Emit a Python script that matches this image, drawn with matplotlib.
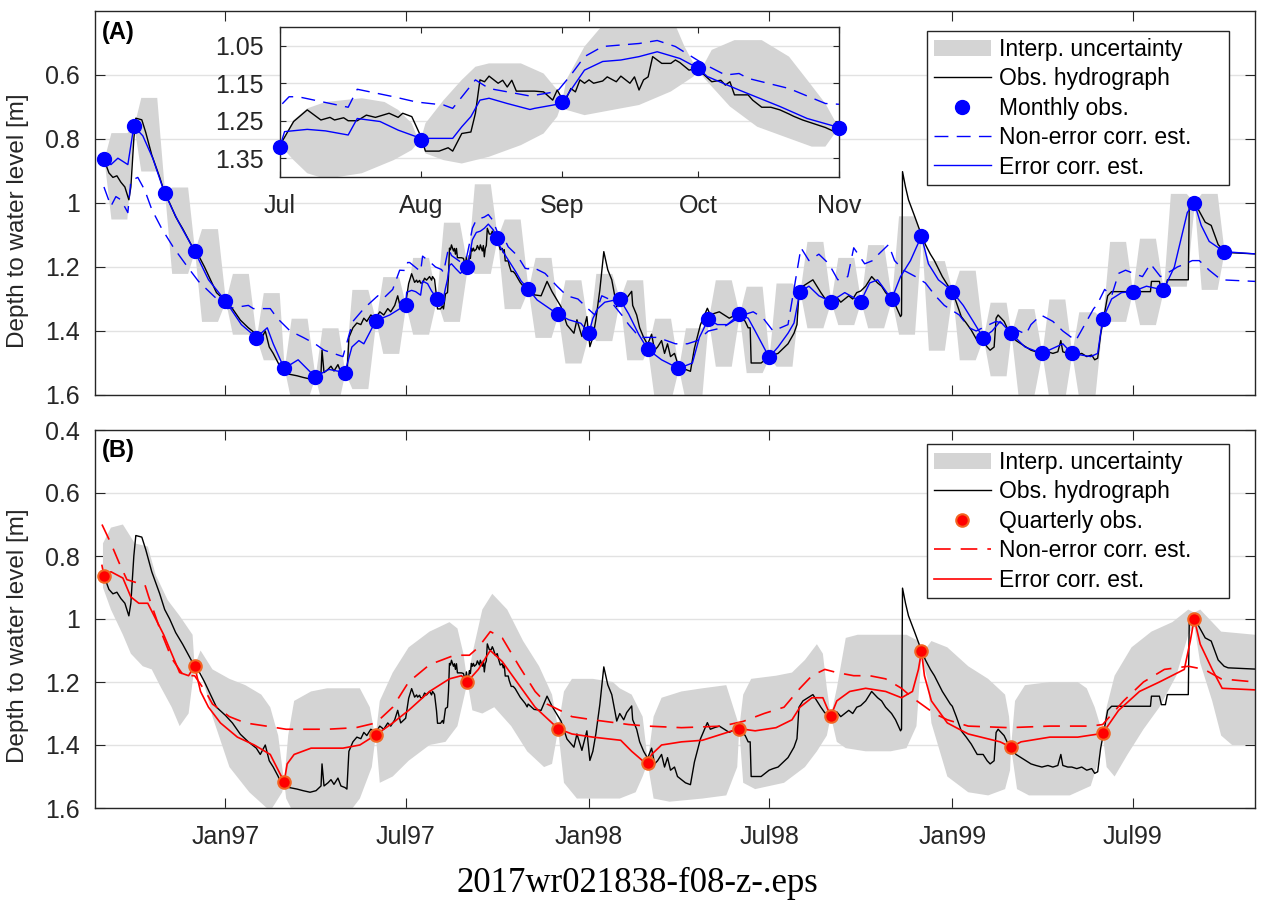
import numpy as np
import pandas as pd
import matplotlib
matplotlib.use("Agg")
import matplotlib.pyplot as plt
import matplotlib.dates as mdates
from matplotlib.patches import Patch
from matplotlib.lines import Line2D

# --- data (depth to water level, m) ---
monthly_dates = pd.date_range("1996-09-01", periods=38, freq="MS")
monthly_obs = [0.863, 0.759, 0.970, 1.149,
               1.306, 1.421, 1.517, 1.543, 1.530, 1.368, 1.319, 1.301, 1.199, 1.108, 1.270, 1.348,
               1.407, 1.301, 1.457, 1.517, 1.363, 1.348, 1.482, 1.277, 1.308, 1.308, 1.301, 1.103,
               1.277, 1.421, 1.407, 1.470, 1.470, 1.363, 1.277, 1.272, 0.999, 1.152]

quarterly_dates = ["1996-09-01", "1996-12-01", "1997-03-01", "1997-06-01", "1997-09-01",
                   "1997-12-01", "1998-03-01", "1998-06-01", "1998-09-01", "1998-12-01",
                   "1999-03-01", "1999-06-01", "1999-09-01"]
quarterly_obs = [0.863, 1.149, 1.517, 1.368, 1.199, 1.348, 1.457, 1.348, 1.308, 1.103,
                 1.407, 1.363, 0.999]

# uncertainty lobe extremes between monthly obs (panel A)
band_a_top = [0.78, 0.67, 0.95, 1.08, 1.22, 1.28, 1.36, 1.39, 1.27, 1.23, 1.17, 1.06, 0.94,
              1.05, 1.17, 1.24, 1.22, 1.24, 1.36, 1.39, 1.24, 1.26, 1.25, 1.12, 1.17, 1.13,
              1.04, 1.18, 1.21, 1.31, 1.33, 1.30, 1.34, 1.12, 1.11, 0.97, 0.97]
band_a_bot = [1.05, 0.90, 1.22, 1.37, 1.41, 1.49, 1.62, 1.63, 1.58, 1.47, 1.41, 1.37, 1.22,
              1.33, 1.42, 1.50, 1.43, 1.49, 1.62, 1.62, 1.51, 1.53, 1.51, 1.39, 1.38, 1.39,
              1.41, 1.46, 1.49, 1.54, 1.60, 1.61, 1.61, 1.37, 1.38, 1.26, 1.27]

obs_hydrograph = [
    ("1996-09-01", 0.863), ("1996-09-06", 0.906), ("1996-09-10", 0.92), ("1996-09-14", 0.915),
    ("1996-09-18", 0.935), ("1996-09-22", 0.95), ("1996-09-26", 0.99), ("1996-09-28", 0.95),
    ("1996-10-01", 0.80), ("1996-10-03", 0.735), ("1996-10-09", 0.74), ("1996-10-13", 0.78),
    ("1996-10-19", 0.85), ("1996-10-27", 0.92), ("1996-11-01", 0.97), ("1996-11-06", 1.00),
    ("1996-11-12", 1.043), ("1996-11-19", 1.08), ("1996-11-25", 1.115), ("1996-12-01", 1.15),
    ("1996-12-06", 1.17), ("1996-12-11", 1.20), ("1996-12-17", 1.24), ("1996-12-23", 1.28),
    ("1997-01-01", 1.306), ("1997-01-08", 1.33), ("1997-01-16", 1.366), ("1997-01-24", 1.39),
    ("1997-02-01", 1.41), ("1997-02-05", 1.43), ("1997-02-10", 1.40), ("1997-02-14", 1.45),
    ("1997-02-18", 1.47), ("1997-02-23", 1.50), ("1997-02-27", 1.53), ("1997-03-06", 1.535),
    ("1997-03-14", 1.54), ("1997-03-20", 1.545), ("1997-03-27", 1.55), ("1997-04-02", 1.545),
    ("1997-04-07", 1.53), ("1997-04-08", 1.46), ("1997-04-10", 1.53), ("1997-04-14", 1.52),
    ("1997-04-17", 1.51), ("1997-04-20", 1.525), ("1997-04-24", 1.505), ("1997-04-27", 1.53),
    ("1997-05-01", 1.535), ("1997-05-03", 1.54), ("1997-05-05", 1.42), ("1997-05-09", 1.39),
    ("1997-05-13", 1.375), ("1997-05-17", 1.38), ("1997-05-20", 1.36), ("1997-05-23", 1.37),
    ("1997-05-27", 1.35), ("1997-06-01", 1.36), ("1997-06-05", 1.34), ("1997-06-09", 1.35),
    ("1997-06-13", 1.33), ("1997-06-16", 1.34), ("1997-06-20", 1.32), ("1997-06-23", 1.29),
    ("1997-06-26", 1.33), ("1997-07-01", 1.315), ("1997-07-04", 1.252), ("1997-07-07", 1.221),
    ("1997-07-10", 1.248), ("1997-07-12", 1.241), ("1997-07-13", 1.248), ("1997-07-15", 1.242),
    ("1997-07-16", 1.25), ("1997-07-18", 1.25), ("1997-07-20", 1.235), ("1997-07-22", 1.241),
    ("1997-07-25", 1.23), ("1997-07-27", 1.241), ("1997-07-28", 1.23), ("1997-07-30", 1.239),
    ("1997-08-01", 1.292), ("1997-08-02", 1.331), ("1997-08-05", 1.331), ("1997-08-07", 1.322),
    ("1997-08-08", 1.331), ("1997-08-10", 1.284), ("1997-08-12", 1.28), ("1997-08-13", 1.23),
    ("1997-08-14", 1.141), ("1997-08-15", 1.146), ("1997-08-16", 1.131), ("1997-08-18", 1.15),
    ("1997-08-19", 1.142), ("1997-08-20", 1.16), ("1997-08-21", 1.142), ("1997-08-22", 1.171),
    ("1997-08-26", 1.171), ("1997-08-28", 1.173), ("1997-08-30", 1.195), ("1997-08-31", 1.168),
    ("1997-09-01", 1.19), ("1997-09-02", 1.19), ("1997-09-03", 1.164), ("1997-09-04", 1.173),
    ("1997-09-05", 1.141), ("1997-09-06", 1.15), ("1997-09-07", 1.141), ("1997-09-08", 1.15),
    ("1997-09-10", 1.144), ("1997-09-11", 1.133), ("1997-09-13", 1.146), ("1997-09-14", 1.131),
    ("1997-09-16", 1.15), ("1997-09-17", 1.133), ("1997-09-18", 1.168), ("1997-09-19", 1.141),
    ("1997-09-20", 1.133), ("1997-09-21", 1.079), ("1997-09-23", 1.097), ("1997-09-25", 1.097),
    ("1997-09-26", 1.088), ("1997-09-27", 1.095), ("1997-09-29", 1.115), ("1997-10-01", 1.11),
    ("1997-10-02", 1.124), ("1997-10-04", 1.146), ("1997-10-06", 1.142), ("1997-10-07", 1.155),
    ("1997-10-08", 1.146), ("1997-10-09", 1.181), ("1997-10-12", 1.181), ("1997-10-13", 1.195),
    ("1997-10-15", 1.214), ("1997-10-17", 1.214), ("1997-10-19", 1.221), ("1997-10-21", 1.232),
    ("1997-10-22", 1.238), ("1997-10-24", 1.248), ("1997-10-27", 1.26), ("1997-10-29", 1.268),
    ("1997-10-31", 1.279), ("1997-11-01", 1.27), ("1997-11-07", 1.287), ("1997-11-14", 1.29),
    ("1997-11-20", 1.245), ("1997-11-25", 1.277), ("1997-12-04", 1.324), ("1997-12-10", 1.381),
    ("1997-12-17", 1.407), ("1997-12-20", 1.365), ("1997-12-25", 1.417), ("1997-12-30", 1.355),
    ("1998-01-02", 1.449), ("1998-01-05", 1.42), ("1998-01-08", 1.365), ("1998-01-12", 1.272),
    ("1998-01-16", 1.152), ("1998-01-20", 1.209), ("1998-01-24", 1.24), ("1998-01-29", 1.324),
    ("1998-02-01", 1.30), ("1998-02-05", 1.32), ("1998-02-08", 1.297), ("1998-02-13", 1.276),
    ("1998-02-14", 1.32), ("1998-02-18", 1.35), ("1998-02-21", 1.39), ("1998-02-25", 1.42),
    ("1998-03-01", 1.442), ("1998-03-05", 1.41), ("1998-03-08", 1.46), ("1998-03-11", 1.45),
    ("1998-03-15", 1.43), ("1998-03-18", 1.47), ("1998-03-21", 1.44), ("1998-03-24", 1.48),
    ("1998-03-28", 1.47), ("1998-03-31", 1.50), ("1998-04-04", 1.51), ("1998-04-08", 1.52),
    ("1998-04-13", 1.526), ("1998-04-17", 1.454), ("1998-04-23", 1.381), ("1998-04-30", 1.329),
    ("1998-05-03", 1.35), ("1998-05-07", 1.345), ("1998-05-12", 1.34), ("1998-05-17", 1.35),
    ("1998-05-22", 1.36), ("1998-05-28", 1.35), ("1998-06-03", 1.355), ("1998-06-07", 1.37),
    ("1998-06-10", 1.39), ("1998-06-12", 1.39), ("1998-06-13", 1.50), ("1998-06-18", 1.50),
    ("1998-06-23", 1.50), ("1998-06-27", 1.49), ("1998-07-01", 1.48), ("1998-07-05", 1.475),
    ("1998-07-10", 1.47), ("1998-07-15", 1.455), ("1998-07-20", 1.44), ("1998-07-26", 1.407),
    ("1998-07-29", 1.38), ("1998-07-31", 1.28), ("1998-08-04", 1.26), ("1998-08-09", 1.25),
    ("1998-08-14", 1.24), ("1998-08-18", 1.26), ("1998-08-22", 1.28), ("1998-08-26", 1.298),
    ("1998-09-03", 1.30), ("1998-09-07", 1.295), ("1998-09-11", 1.31), ("1998-09-15", 1.30),
    ("1998-09-19", 1.29), ("1998-09-23", 1.30), ("1998-09-27", 1.28), ("1998-10-01", 1.275),
    ("1998-10-06", 1.26), ("1998-10-12", 1.23), ("1998-10-18", 1.25), ("1998-10-22", 1.26),
    ("1998-10-26", 1.28), ("1998-11-01", 1.30), ("1998-11-05", 1.32), ("1998-11-07", 1.334),
    ("1998-11-10", 1.355), ("1998-11-11", 1.35), ("1998-11-12", 0.902), ("1998-11-15", 0.95),
    ("1998-11-18", 0.99), ("1998-11-24", 1.04), ("1998-12-01", 1.10), ("1998-12-05", 1.13),
    ("1998-12-10", 1.16), ("1998-12-14", 1.18), ("1998-12-22", 1.23), ("1998-12-30", 1.27),
    ("1999-01-01", 1.277), ("1999-01-05", 1.31), ("1999-01-10", 1.355), ("1999-01-15", 1.375),
    ("1999-01-20", 1.397), ("1999-01-26", 1.43), ("1999-02-01", 1.43), ("1999-02-05", 1.45),
    ("1999-02-08", 1.46), ("1999-02-12", 1.45), ("1999-02-14", 1.36), ("1999-02-16", 1.35),
    ("1999-02-19", 1.36), ("1999-02-22", 1.37), ("1999-02-25", 1.39), ("1999-03-01", 1.41),
    ("1999-03-06", 1.43), ("1999-03-11", 1.44), ("1999-03-16", 1.45), ("1999-03-21", 1.46),
    ("1999-03-26", 1.465), ("1999-04-01", 1.47), ("1999-04-07", 1.465), ("1999-04-12", 1.47),
    ("1999-04-17", 1.465), ("1999-04-20", 1.43), ("1999-04-22", 1.465), ("1999-04-27", 1.47),
    ("1999-05-01", 1.47), ("1999-05-06", 1.475), ("1999-05-11", 1.47), ("1999-05-16", 1.48),
    ("1999-05-21", 1.475), ("1999-05-24", 1.49), ("1999-05-27", 1.485), ("1999-05-30", 1.41),
    ("1999-06-02", 1.36), ("1999-06-06", 1.29), ("1999-06-10", 1.277), ("1999-07-19", 1.277),
    ("1999-07-20", 1.245), ("1999-07-28", 1.245), ("1999-07-30", 1.272), ("1999-08-03", 1.272),
    ("1999-08-05", 1.24), ("1999-08-26", 1.24), ("1999-08-27", 1.00), ("1999-09-01", 1.00),
    ("1999-09-05", 1.02), ("1999-09-12", 1.06), ("1999-09-18", 1.07), ("1999-09-25", 1.13),
    ("1999-10-01", 1.15), ("1999-10-05", 1.155), ("1999-11-01", 1.159),
]

a_error_corr = [
    ("1996-09-01", 0.863), ("1996-09-08", 0.88), ("1996-09-15", 0.86), ("1996-09-25", 0.88),
    ("1996-10-01", 0.76), ("1996-10-10", 0.79), ("1996-10-20", 0.86), ("1996-11-01", 0.97),
    ("1996-11-15", 1.06), ("1996-12-01", 1.15), ("1996-12-15", 1.24), ("1997-01-01", 1.306),
    ("1997-01-17", 1.38), ("1997-02-01", 1.42), ("1997-02-12", 1.39), ("1997-02-18", 1.44),
    ("1997-03-01", 1.517), ("1997-03-15", 1.49), ("1997-04-01", 1.543), ("1997-04-15", 1.52),
    ("1997-05-01", 1.53), ("1997-05-08", 1.45), ("1997-05-15", 1.43), ("1997-05-20", 1.44),
    ("1997-06-01", 1.368), ("1997-06-15", 1.35), ("1997-07-01", 1.319), ("1997-07-02", 1.279),
    ("1997-07-07", 1.273), ("1997-07-11", 1.277), ("1997-07-16", 1.288), ("1997-07-18", 1.244),
    ("1997-07-23", 1.252), ("1997-07-27", 1.275), ("1997-08-01", 1.297), ("1997-08-08", 1.297),
    ("1997-08-10", 1.266), ("1997-08-12", 1.239), ("1997-08-14", 1.195), ("1997-08-16", 1.19),
    ("1997-08-20", 1.204), ("1997-08-25", 1.22), ("1997-08-26", 1.217), ("1997-09-01", 1.204),
    ("1997-09-03", 1.168), ("1997-09-06", 1.115), ("1997-09-10", 1.092), ("1997-09-14", 1.088),
    ("1997-09-18", 1.079), ("1997-09-22", 1.066), ("1997-09-27", 1.084), ("1997-10-01", 1.11),
    ("1997-10-03", 1.132), ("1997-10-10", 1.168), ("1997-10-19", 1.212), ("1997-10-25", 1.244),
    ("1997-11-01", 1.268), ("1997-11-10", 1.303), ("1997-12-01", 1.348), ("1997-12-12", 1.365),
    ("1997-12-24", 1.376), ("1998-01-01", 1.407), ("1998-01-05", 1.361), ("1998-01-10", 1.33),
    ("1998-01-17", 1.31), ("1998-02-01", 1.30), ("1998-02-10", 1.347), ("1998-02-20", 1.41),
    ("1998-03-01", 1.457), ("1998-03-15", 1.49), ("1998-04-01", 1.517), ("1998-04-15", 1.50),
    ("1998-04-22", 1.42), ("1998-05-01", 1.363), ("1998-05-10", 1.38), ("1998-05-20", 1.38),
    ("1998-06-01", 1.348), ("1998-06-10", 1.36), ("1998-06-17", 1.40), ("1998-07-01", 1.482),
    ("1998-07-10", 1.45), ("1998-07-20", 1.407), ("1998-07-26", 1.375), ("1998-08-01", 1.277),
    ("1998-08-10", 1.26), ("1998-08-20", 1.29), ("1998-09-01", 1.308), ("1998-09-15", 1.28),
    ("1998-10-01", 1.308), ("1998-10-10", 1.25), ("1998-10-18", 1.24), ("1998-10-25", 1.27),
    ("1998-11-01", 1.301), ("1998-11-10", 1.23), ("1998-11-20", 1.18), ("1998-12-01", 1.103),
    ("1998-12-08", 1.19), ("1998-12-18", 1.24), ("1998-12-26", 1.26), ("1999-01-01", 1.277),
    ("1999-01-12", 1.32), ("1999-01-22", 1.37), ("1999-02-01", 1.421), ("1999-02-10", 1.40),
    ("1999-02-18", 1.37), ("1999-03-01", 1.407), ("1999-03-15", 1.45), ("1999-04-01", 1.47),
    ("1999-04-15", 1.45), ("1999-04-22", 1.44), ("1999-05-01", 1.47), ("1999-05-20", 1.48),
    ("1999-05-27", 1.47), ("1999-06-01", 1.363), ("1999-06-10", 1.30), ("1999-06-20", 1.28),
    ("1999-07-01", 1.277), ("1999-07-15", 1.26), ("1999-08-01", 1.272), ("1999-08-12", 1.20),
    ("1999-08-25", 1.03), ("1999-09-01", 0.999), ("1999-09-08", 1.07), ("1999-09-16", 1.12),
    ("1999-10-01", 1.152), ("1999-11-01", 1.159),
]

a_non_error = [
    ("1996-09-01", 0.95), ("1996-09-08", 1.01), ("1996-09-13", 0.98), ("1996-09-18", 0.99),
    ("1996-09-25", 1.03), ("1996-09-28", 0.93), ("1996-10-05", 0.92), ("1996-10-12", 0.96),
    ("1996-10-19", 1.02), ("1996-10-29", 1.08), ("1996-11-10", 1.14), ("1996-11-24", 1.20),
    ("1996-12-05", 1.245), ("1996-12-20", 1.29), ("1997-01-03", 1.33), ("1997-01-24", 1.32),
    ("1997-01-29", 1.33), ("1997-02-15", 1.33), ("1997-02-22", 1.36), ("1997-03-07", 1.40),
    ("1997-03-20", 1.42), ("1997-04-01", 1.44), ("1997-04-10", 1.46), ("1997-04-29", 1.48),
    ("1997-05-09", 1.37), ("1997-05-20", 1.33), ("1997-06-03", 1.29), ("1997-06-08", 1.30),
    ("1997-06-18", 1.27), ("1997-06-25", 1.21), ("1997-07-01", 1.211), ("1997-07-03", 1.186),
    ("1997-07-05", 1.186), ("1997-07-16", 1.214), ("1997-07-18", 1.166), ("1997-07-26", 1.186),
    ("1997-07-31", 1.20), ("1997-08-06", 1.208), ("1997-08-08", 1.217), ("1997-08-13", 1.141),
    ("1997-08-16", 1.164), ("1997-08-25", 1.184), ("1997-08-31", 1.172), ("1997-09-03", 1.128),
    ("1997-09-06", 1.079), ("1997-09-10", 1.052), ("1997-09-14", 1.048), ("1997-09-18", 1.044),
    ("1997-09-22", 1.036), ("1997-09-26", 1.052), ("1997-10-02", 1.097), ("1997-10-07", 1.128),
    ("1997-10-10", 1.124), ("1997-10-12", 1.137), ("1997-10-21", 1.164), ("1997-10-29", 1.204),
    ("1997-11-01", 1.206), ("1997-11-05", 1.20), ("1997-11-18", 1.22), ("1997-11-30", 1.26),
    ("1997-12-10", 1.29), ("1997-12-21", 1.30), ("1997-12-31", 1.33), ("1998-01-07", 1.35),
    ("1998-01-14", 1.29), ("1998-01-21", 1.30), ("1998-02-03", 1.35), ("1998-02-10", 1.38),
    ("1998-02-21", 1.42), ("1998-03-11", 1.42), ("1998-03-29", 1.44), ("1998-04-10", 1.44),
    ("1998-04-20", 1.43), ("1998-05-01", 1.40), ("1998-05-15", 1.39), ("1998-06-05", 1.35),
    ("1998-06-15", 1.34), ("1998-06-25", 1.36), ("1998-07-05", 1.40), ("1998-07-20", 1.38),
    ("1998-08-02", 1.14), ("1998-08-10", 1.18), ("1998-08-20", 1.16), ("1998-08-30", 1.19),
    ("1998-09-08", 1.24), ("1998-09-18", 1.23), ("1998-09-24", 1.14), ("1998-10-05", 1.19),
    ("1998-10-13", 1.18), ("1998-10-19", 1.16), ("1998-10-29", 1.13), ("1998-11-04", 1.18),
    ("1998-11-13", 1.21), ("1998-11-25", 1.23), ("1998-12-05", 1.25), ("1998-12-15", 1.29),
    ("1998-12-24", 1.32), ("1999-01-08", 1.35), ("1999-01-18", 1.39), ("1999-01-25", 1.40),
    ("1999-02-07", 1.38), ("1999-02-14", 1.37), ("1999-02-24", 1.38), ("1999-03-02", 1.39),
    ("1999-03-16", 1.41), ("1999-03-21", 1.38), ("1999-03-31", 1.35), ("1999-04-12", 1.37),
    ("1999-04-22", 1.40), ("1999-05-05", 1.43), ("1999-05-23", 1.33), ("1999-05-26", 1.32),
    ("1999-06-03", 1.27), ("1999-06-10", 1.29), ("1999-06-17", 1.22), ("1999-06-24", 1.21),
    ("1999-07-02", 1.22), ("1999-07-11", 1.23), ("1999-07-19", 1.19), ("1999-07-29", 1.23),
    ("1999-08-10", 1.21), ("1999-08-15", 1.20), ("1999-08-23", 1.19), ("1999-08-30", 1.18),
    ("1999-09-06", 1.18), ("1999-09-16", 1.21), ("1999-09-28", 1.24), ("1999-11-01", 1.245),
]

b_error_corr = [
    ("1996-08-30", 0.83), ("1996-09-01", 0.863), ("1996-09-08", 0.85), ("1996-09-20", 0.87),
    ("1996-09-28", 0.93), ("1996-10-06", 0.95), ("1996-10-15", 0.95), ("1996-10-23", 1.00),
    ("1996-10-31", 1.05), ("1996-11-08", 1.11), ("1996-11-16", 1.17), ("1996-11-25", 1.18),
    ("1996-12-01", 1.149), ("1996-12-07", 1.23), ("1996-12-15", 1.28), ("1996-12-27", 1.33),
    ("1997-01-13", 1.375), ("1997-01-30", 1.40), ("1997-02-15", 1.43), ("1997-02-23", 1.48),
    ("1997-03-01", 1.517), ("1997-03-04", 1.46), ("1997-03-11", 1.43), ("1997-03-28", 1.41),
    ("1997-04-29", 1.41), ("1997-05-16", 1.40), ("1997-05-26", 1.38), ("1997-06-01", 1.368),
    ("1997-06-18", 1.33), ("1997-07-04", 1.29), ("1997-07-25", 1.23), ("1997-08-14", 1.19),
    ("1997-08-26", 1.18), ("1997-09-01", 1.199), ("1997-09-12", 1.16), ("1997-09-24", 1.10),
    ("1997-10-06", 1.135), ("1997-10-23", 1.21), ("1997-11-08", 1.28), ("1997-11-25", 1.33),
    ("1997-12-01", 1.348), ("1997-12-15", 1.365), ("1998-01-05", 1.375), ("1998-02-02", 1.385),
    ("1998-02-13", 1.42), ("1998-02-24", 1.45), ("1998-03-01", 1.457), ("1998-03-05", 1.43),
    ("1998-03-15", 1.40), ("1998-04-04", 1.39), ("1998-04-25", 1.385), ("1998-05-15", 1.365),
    ("1998-06-01", 1.348), ("1998-06-17", 1.355), ("1998-07-08", 1.345), ("1998-07-24", 1.32),
    ("1998-08-01", 1.28), ("1998-08-13", 1.25), ("1998-08-24", 1.25), ("1998-08-28", 1.28),
    ("1998-09-01", 1.308), ("1998-09-07", 1.26), ("1998-09-20", 1.23), ("1998-10-06", 1.22),
    ("1998-10-26", 1.23), ("1998-11-11", 1.25), ("1998-11-22", 1.23), ("1998-11-28", 1.16),
    ("1998-12-01", 1.103), ("1998-12-04", 1.18), ("1998-12-11", 1.26), ("1998-12-27", 1.33),
    ("1999-01-17", 1.365), ("1999-02-18", 1.39), ("1999-03-01", 1.407), ("1999-03-11", 1.39),
    ("1999-04-09", 1.375), ("1999-05-07", 1.375), ("1999-05-28", 1.365), ("1999-06-01", 1.363),
    ("1999-06-17", 1.29), ("1999-07-08", 1.23), ("1999-07-28", 1.20), ("1999-08-22", 1.16),
    ("1999-08-28", 1.07), ("1999-09-01", 0.999), ("1999-09-07", 1.08), ("1999-09-19", 1.16),
    ("1999-09-29", 1.22), ("1999-11-01", 1.225),
]

b_non_error = [
    ("1996-08-30", 0.70), ("1996-09-08", 0.76), ("1996-09-16", 0.82), ("1996-09-24", 0.875),
    ("1996-10-04", 0.885), ("1996-10-12", 0.89), ("1996-10-16", 0.93), ("1996-10-27", 1.03),
    ("1996-11-08", 1.125), ("1996-11-20", 1.18), ("1996-12-01", 1.18), ("1996-12-12", 1.23),
    ("1996-12-19", 1.27), ("1997-01-05", 1.31), ("1997-01-21", 1.33), ("1997-02-11", 1.34),
    ("1997-03-03", 1.35), ("1997-04-13", 1.35), ("1997-05-12", 1.345), ("1997-06-01", 1.33),
    ("1997-06-18", 1.28), ("1997-07-04", 1.20), ("1997-07-25", 1.145), ("1997-08-19", 1.115),
    ("1997-09-03", 1.115), ("1997-09-12", 1.09), ("1997-09-24", 1.04), ("1997-10-06", 1.06),
    ("1997-10-23", 1.15), ("1997-11-08", 1.23), ("1997-11-20", 1.27), ("1997-12-03", 1.29),
    ("1997-12-15", 1.31), ("1998-01-05", 1.32), ("1998-02-10", 1.335), ("1998-03-01", 1.34),
    ("1998-04-04", 1.345), ("1998-05-15", 1.34), ("1998-06-05", 1.325), ("1998-06-26", 1.30),
    ("1998-07-16", 1.28), ("1998-08-01", 1.22), ("1998-08-13", 1.18), ("1998-08-26", 1.16),
    ("1998-09-07", 1.17), ("1998-09-24", 1.18), ("1998-10-10", 1.18), ("1998-10-26", 1.19),
    ("1998-11-11", 1.22), ("1998-11-22", 1.25), ("1998-12-14", 1.30), ("1998-12-27", 1.32),
    ("1999-01-17", 1.34), ("1999-02-27", 1.345), ("1999-04-09", 1.34), ("1999-05-20", 1.34),
    ("1999-06-01", 1.335), ("1999-06-22", 1.26), ("1999-07-12", 1.20), ("1999-08-02", 1.16),
    ("1999-08-26", 1.15), ("1999-09-11", 1.16), ("1999-09-28", 1.19), ("1999-11-01", 1.20),
]

# uncertainty envelope, quarterly interpolation (panel B)
b_band_upper = [
    ("1996-08-31", 0.76), ("1996-09-08", 0.71), ("1996-09-20", 0.70), ("1996-10-02", 0.76),
    ("1996-10-15", 0.77), ("1996-10-23", 0.86), ("1996-11-04", 0.94), ("1996-11-16", 0.99),
    ("1996-11-29", 1.05), ("1996-12-01", 1.149), ("1996-12-07", 1.10), ("1996-12-19", 1.16),
    ("1997-01-05", 1.19), ("1997-01-21", 1.21), ("1997-02-06", 1.24), ("1997-02-15", 1.28),
    ("1997-02-23", 1.37), ("1997-02-27", 1.47), ("1997-03-01", 1.517), ("1997-03-05", 1.37),
    ("1997-03-11", 1.26), ("1997-03-28", 1.23), ("1997-04-13", 1.22), ("1997-05-16", 1.22),
    ("1997-05-26", 1.28), ("1997-05-30", 1.35), ("1997-06-01", 1.368), ("1997-06-05", 1.26),
    ("1997-06-18", 1.17), ("1997-07-04", 1.09), ("1997-07-25", 1.04), ("1997-08-14", 1.01),
    ("1997-08-22", 1.03), ("1997-08-28", 1.11), ("1997-09-01", 1.199), ("1997-09-06", 1.11),
    ("1997-09-16", 0.97), ("1997-09-26", 0.92), ("1997-10-11", 0.97), ("1997-10-27", 1.07),
    ("1997-11-12", 1.15), ("1997-11-25", 1.24), ("1997-11-29", 1.31), ("1997-12-01", 1.348),
    ("1997-12-07", 1.23), ("1997-12-15", 1.19), ("1998-01-05", 1.19), ("1998-01-25", 1.20),
    ("1998-02-01", 1.22), ("1998-02-13", 1.24), ("1998-02-24", 1.31), ("1998-02-28", 1.42),
    ("1998-03-01", 1.457), ("1998-03-07", 1.31), ("1998-03-15", 1.25), ("1998-04-04", 1.23),
    ("1998-04-25", 1.22), ("1998-05-19", 1.21), ("1998-05-24", 1.26), ("1998-05-30", 1.32),
    ("1998-06-01", 1.348), ("1998-06-05", 1.24), ("1998-06-13", 1.19), ("1998-07-08", 1.18),
    ("1998-07-24", 1.17), ("1998-08-06", 1.13), ("1998-08-18", 1.08), ("1998-08-24", 1.11),
    ("1998-08-28", 1.22), ("1998-09-01", 1.308), ("1998-09-07", 1.22), ("1998-09-16", 1.06),
    ("1998-09-28", 1.05), ("1998-10-26", 1.05), ("1998-11-16", 1.05), ("1998-11-28", 1.07),
    ("1998-12-01", 1.09), ("1998-12-04", 1.10), ("1998-12-11", 1.07), ("1998-12-27", 1.09),
    ("1999-01-17", 1.15), ("1999-02-06", 1.19), ("1999-02-23", 1.24), ("1999-02-27", 1.31),
    ("1999-03-01", 1.407), ("1999-03-05", 1.26), ("1999-03-15", 1.21), ("1999-04-09", 1.20),
    ("1999-05-07", 1.20), ("1999-05-16", 1.22), ("1999-05-24", 1.28), ("1999-06-01", 1.363),
    ("1999-06-05", 1.28), ("1999-06-13", 1.18), ("1999-06-30", 1.09), ("1999-07-20", 1.04),
    ("1999-08-10", 1.01), ("1999-08-26", 0.97), ("1999-09-01", 0.98), ("1999-09-07", 0.97),
    ("1999-09-28", 1.04), ("1999-11-01", 1.05),
]
b_band_lower = [
    ("1996-08-31", 0.90), ("1996-09-08", 0.97), ("1996-09-20", 1.05), ("1996-09-28", 1.11),
    ("1996-10-10", 1.15), ("1996-10-19", 1.16), ("1996-10-27", 1.21), ("1996-11-08", 1.28),
    ("1996-11-16", 1.34), ("1996-11-25", 1.30), ("1996-11-29", 1.20), ("1996-12-01", 1.149),
    ("1996-12-07", 1.16), ("1996-12-19", 1.31), ("1997-01-05", 1.47), ("1997-01-25", 1.55),
    ("1997-02-15", 1.61), ("1997-02-27", 1.55), ("1997-03-01", 1.517), ("1997-03-03", 1.57),
    ("1997-03-11", 1.62), ("1997-05-04", 1.62), ("1997-05-16", 1.57), ("1997-05-28", 1.47),
    ("1997-06-01", 1.368), ("1997-06-05", 1.52), ("1997-06-18", 1.50), ("1997-07-04", 1.45),
    ("1997-07-25", 1.40), ("1997-08-10", 1.39), ("1997-08-22", 1.34), ("1997-08-30", 1.23),
    ("1997-09-01", 1.199), ("1997-09-06", 1.29), ("1997-09-16", 1.30), ("1997-09-28", 1.28),
    ("1997-10-15", 1.34), ("1997-10-31", 1.42), ("1997-11-17", 1.47), ("1997-11-25", 1.46),
    ("1997-11-29", 1.39), ("1997-12-01", 1.348), ("1997-12-07", 1.52), ("1997-12-20", 1.57),
    ("1998-01-25", 1.57), ("1998-02-01", 1.57), ("1998-02-17", 1.55), ("1998-02-24", 1.50),
    ("1998-03-01", 1.457), ("1998-03-07", 1.57), ("1998-03-23", 1.58), ("1998-04-25", 1.57),
    ("1998-05-19", 1.56), ("1998-05-30", 1.47), ("1998-06-01", 1.348), ("1998-06-05", 1.52),
    ("1998-06-17", 1.54), ("1998-07-16", 1.52), ("1998-08-06", 1.47), ("1998-08-18", 1.42),
    ("1998-08-28", 1.37), ("1998-09-01", 1.308), ("1998-09-07", 1.39), ("1998-09-16", 1.41),
    ("1998-10-06", 1.42), ("1998-10-31", 1.42), ("1998-11-16", 1.41), ("1998-11-26", 1.34),
    ("1998-12-01", 1.12), ("1998-12-07", 1.19), ("1998-12-11", 1.33), ("1998-12-27", 1.50),
    ("1999-01-17", 1.55), ("1999-02-06", 1.56), ("1999-02-23", 1.54), ("1999-02-28", 1.48),
    ("1999-03-01", 1.407), ("1999-03-07", 1.54), ("1999-03-19", 1.56), ("1999-04-29", 1.56),
    ("1999-05-20", 1.53), ("1999-05-28", 1.45), ("1999-06-01", 1.363), ("1999-06-05", 1.47),
    ("1999-06-13", 1.50), ("1999-06-26", 1.43), ("1999-07-12", 1.35), ("1999-07-28", 1.28),
    ("1999-08-14", 1.18), ("1999-08-26", 1.05), ("1999-09-01", 1.02), ("1999-09-07", 1.14),
    ("1999-09-19", 1.26), ("1999-09-28", 1.37), ("1999-10-09", 1.40), ("1999-11-01", 1.40),
]

# inset envelope, Jul-Nov 1997
inset_band_upper = [
    ("1997-07-01", 1.315), ("1997-07-04", 1.248), ("1997-07-07", 1.217), ("1997-07-11", 1.20),
    ("1997-07-19", 1.19), ("1997-07-24", 1.20), ("1997-07-27", 1.221), ("1997-07-30", 1.257),
    ("1997-07-31", 1.288), ("1997-08-01", 1.30), ("1997-08-02", 1.257), ("1997-08-06", 1.195),
    ("1997-08-10", 1.141), ("1997-08-13", 1.106), ("1997-08-16", 1.097), ("1997-08-23", 1.097),
    ("1997-08-28", 1.124), ("1997-08-31", 1.168), ("1997-09-01", 1.204), ("1997-09-02", 1.141),
    ("1997-09-06", 1.052), ("1997-09-10", 0.995), ("1997-09-26", 0.995), ("1997-09-28", 1.052),
    ("1997-09-30", 1.097), ("1997-10-01", 1.11), ("1997-10-02", 1.106), ("1997-10-04", 1.061),
    ("1997-10-09", 1.035), ("1997-10-15", 1.035), ("1997-10-21", 1.079), ("1997-10-25", 1.141),
    ("1997-10-29", 1.204), ("1997-10-31", 1.248), ("1997-11-01", 1.268),
]
inset_band_lower = [
    ("1997-07-01", 1.315), ("1997-07-04", 1.355), ("1997-07-07", 1.39), ("1997-07-11", 1.405),
    ("1997-07-19", 1.39), ("1997-07-26", 1.355), ("1997-07-30", 1.328), ("1997-08-01", 1.30),
    ("1997-08-02", 1.337), ("1997-08-06", 1.355), ("1997-08-10", 1.364), ("1997-08-16", 1.346),
    ("1997-08-23", 1.315), ("1997-08-28", 1.284), ("1997-08-31", 1.239), ("1997-09-01", 1.204),
    ("1997-09-02", 1.221), ("1997-09-06", 1.235), ("1997-09-10", 1.226), ("1997-09-18", 1.208),
    ("1997-09-25", 1.172), ("1997-09-30", 1.132), ("1997-10-01", 1.11), ("1997-10-02", 1.132),
    ("1997-10-08", 1.212), ("1997-10-14", 1.266), ("1997-10-21", 1.297), ("1997-10-26", 1.319),
    ("1997-10-29", 1.319), ("1997-11-01", 1.268),
]

main_ticks = ["1997-01-01", "1997-07-01", "1998-01-01", "1998-07-01", "1999-01-01", "1999-07-01"]
main_tick_labels = ["Jan97", "Jul97", "Jan98", "Jul98", "Jan99", "Jul99"]
inset_ticks = ["1997-07-01", "1997-08-01", "1997-09-01", "1997-10-01", "1997-11-01"]
inset_tick_labels = ["Jul", "Aug", "Sep", "Oct", "Nov"]

# --- style ---
plt.rcParams["font.family"] = ["Liberation Sans", "DejaVu Sans"]
GREY = "#d4d4d4"
INK = "#262626"
BLUE = "#0000ff"
RED = "#ff0000"
FS = 18
LFS = 16.5


def num(dates):
    return mdates.date2num(pd.to_datetime(dates))


def split(pairs):
    d, v = zip(*pairs)
    return num(list(d)), np.array(v)


def fill_env(ax, upper, lower, **kw):
    ux, uy = split(upper)
    lx, ly = split(lower)
    ax.fill(np.r_[ux, lx[::-1]], np.r_[uy, ly[::-1]], **kw)


def style(ax, yticks, ylabels, length=7, pad=11):
    ax.set_yticks(yticks)
    ax.set_yticklabels(ylabels)
    ax.tick_params(direction="in", length=length, width=0.8, top=True, right=True,
                   colors=INK, labelsize=FS, pad=pad)
    ax.grid(axis="y", color="#e2e2e2", lw=1)
    ax.set_axisbelow(True)
    for s in ax.spines.values():
        s.set_color(INK)
        s.set_linewidth(1)


def add_legend(ax, handles, labels, top):
    # fixed-width box like the original (text left, free space on the right)
    leg = ax.legend(handles, labels, loc="upper left",
                    bbox_to_anchor=(0.7172, top - 0.5, 0.2603, 0.5), mode="expand",
                    borderaxespad=0, fancybox=False, edgecolor=INK, framealpha=1,
                    fontsize=LFS, handlelength=2.5, handletextpad=0.35, labelspacing=0.28,
                    borderpad=0.3)
    leg.get_frame().set_linewidth(1)
    return leg


obs_x, obs_y = split(obs_hydrograph)
aerr_x, aerr_y = split(a_error_corr)
anon_x, anon_y = split(a_non_error)
berr_x, berr_y = split(b_error_corr)
bnon_x, bnon_y = split(b_non_error)
mon_x = num(monthly_dates)
mon_y = np.array(monthly_obs)
q_x = num(quarterly_dates)

# panel A envelope: pinched at each monthly obs, lobe in between
env_x, env_top, env_bot = [], [], []
for i in range(len(band_a_top)):
    m0 = mon_x[i]
    env_x += [m0, m0 + 7, m0 + 23]
    env_top += [monthly_obs[i], band_a_top[i], band_a_top[i]]
    env_bot += [monthly_obs[i], band_a_bot[i], band_a_bot[i]]
env_x.append(mon_x[len(band_a_top)])
env_top.append(monthly_obs[len(band_a_top)])
env_bot.append(monthly_obs[len(band_a_top)])

fig = plt.figure(figsize=(12.61, 9.02), dpi=100)
axA = fig.add_axes([95 / 1261, 1 - 395 / 902, 1160 / 1261, 384 / 902])
axB = fig.add_axes([95 / 1261, 1 - 808 / 902, 1160 / 1261, 378 / 902])

xlim = num(["1996-08-23", "1999-11-01"])
dash = (10, 6)

# ---- panel A ----
axA.fill_between(env_x, env_top, env_bot, color=GREY, lw=0, zorder=1)
axA.plot(obs_x, obs_y, color="k", lw=1.0, zorder=2)
axA.plot(anon_x, anon_y, color=BLUE, lw=1.0, dashes=dash, zorder=3)
axA.plot(aerr_x, aerr_y, color=BLUE, lw=1.0, zorder=3)
axA.plot(mon_x, mon_y, "o", color=BLUE, ms=10, zorder=4)
axA.set_xlim(xlim)
axA.set_ylim(1.6, 0.4)
style(axA, [0.6, 0.8, 1.0, 1.2, 1.4, 1.6], ["0.6", "0.8", "1", "1.2", "1.4", "1.6"])
axA.set_xticks(num(main_ticks))
axA.set_xticklabels([])
axA.set_ylabel("Depth to water level [m]", fontsize=17.5, color=INK)
axA.yaxis.set_label_coords(-0.057, 0.455)
axA.text(0.006, 0.945, "(A)", transform=axA.transAxes, fontsize=17, fontweight="bold",
         ha="left", va="center", color="k")

handles_a = [Patch(facecolor=GREY, edgecolor="none"),
             Line2D([], [], color="k", lw=1.0),
             Line2D([], [], ls="none", marker="o", color=BLUE, ms=10),
             Line2D([], [], color=BLUE, lw=1.0, dashes=dash),
             Line2D([], [], color=BLUE, lw=1.0)]
labels_a = ["Interp. uncertainty", "Obs. hydrograph", "Monthly obs.",
            "Non-error corr. est.", "Error corr. est."]
add_legend(axA, handles_a, labels_a, 0.948)

# ---- inset ----
ins_lim = num(["1997-07-01", "1997-11-01"])
axI = fig.add_axes([280 / 1261, 1 - 177 / 902, 559 / 1261, 150 / 902])
axI.set_facecolor("white")
fill_env(axI, inset_band_upper, inset_band_lower, color=GREY, lw=0, zorder=1)
axI.plot(obs_x, obs_y, color="k", lw=1.0, zorder=2)
axI.plot(anon_x, anon_y, color=BLUE, lw=1.0, dashes=dash, zorder=3)
axI.plot(aerr_x, aerr_y, color=BLUE, lw=1.0, zorder=3)
sel = (mon_x >= ins_lim[0]) & (mon_x <= ins_lim[1])
axI.plot(mon_x[sel], mon_y[sel], "o", color=BLUE, ms=10, zorder=4, clip_on=False)
axI.set_xlim(ins_lim)
axI.set_ylim(1.4, 1.0)
style(axI, [1.05, 1.15, 1.25, 1.35], ["1.05", "1.15", "1.25", "1.35"], length=4, pad=12)
axI.set_xticks(num(inset_ticks))
axI.set_xticklabels(inset_tick_labels)
axI.tick_params(axis="x", pad=12)

# ---- panel B ----
fill_env(axB, b_band_upper, b_band_lower, color=GREY, lw=0, zorder=1)
axB.plot(obs_x, obs_y, color="k", lw=1.0, zorder=2)
axB.plot(bnon_x, bnon_y, color=RED, lw=1.2, dashes=dash, zorder=3)
axB.plot(berr_x, berr_y, color=RED, lw=1.2, zorder=3)
axB.plot(q_x, quarterly_obs, "o", mfc=RED, mec="#f26522", mew=1.5, ms=9, zorder=4)
axB.set_xlim(xlim)
axB.set_ylim(1.6, 0.4)
style(axB, [0.4, 0.6, 0.8, 1.0, 1.2, 1.4, 1.6],
      ["0.4", "0.6", "0.8", "1", "1.2", "1.4", "1.6"])
axB.set_xticks(num(main_ticks))
axB.set_xticklabels(main_tick_labels)
axB.tick_params(axis="x", pad=12)
axB.set_ylabel("Depth to water level [m]", fontsize=17.5, color=INK)
axB.yaxis.set_label_coords(-0.057, 0.455)
axB.text(0.006, 0.945, "(B)", transform=axB.transAxes, fontsize=17, fontweight="bold",
         ha="left", va="center", color="k")

handles_b = [Patch(facecolor=GREY, edgecolor="none"),
             Line2D([], [], color="k", lw=1.0),
             Line2D([], [], ls="none", marker="o", mfc=RED, mec="#f26522", mew=1.5, ms=9),
             Line2D([], [], color=RED, lw=1.2, dashes=dash),
             Line2D([], [], color=RED, lw=1.2)]
labels_b = ["Interp. uncertainty", "Obs. hydrograph", "Quarterly obs.",
            "Non-error corr. est.", "Error corr. est."]
add_legend(axB, handles_b, labels_b, 0.963)

fig.text(637 / 1261, 1 - 883 / 902, "2017wr021838-f08-z-.eps", ha="center", va="center",
         fontsize=25, family=["Liberation Serif", "DejaVu Serif"])

fig.savefig("out.png", dpi=100)
